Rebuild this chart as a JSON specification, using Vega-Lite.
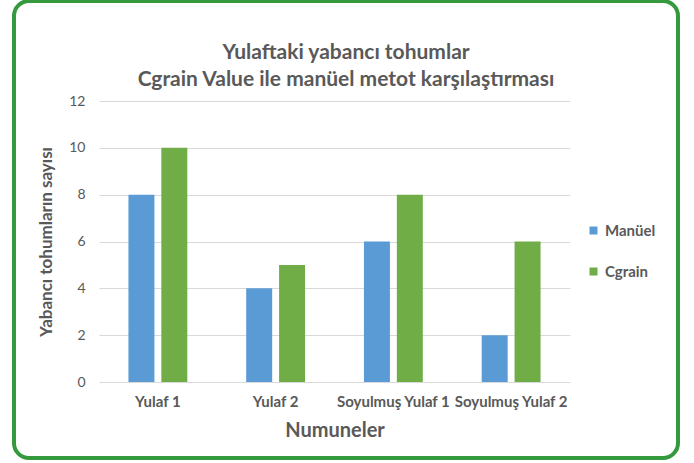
{
  "$schema": "https://vega.github.io/schema/vega-lite/v6.json",
  "width": 664,
  "height": 457,
  "autosize": {"type": "none"},
  "padding": {"left": 14, "top": 1, "right": 16, "bottom": 5},
  "background": "white",
  "title": {
    "text": ["Yulaftaki yabancı tohumlar", "Cgrain Value ile manüel metot karşılaştırması"],
    "font": "Lato",
    "fontSize": 21,
    "fontWeight": "bold",
    "color": "#595959",
    "lineHeight": 27,
    "anchor": "middle",
    "frame": "group",
    "offset": 0,
    "baseline": "alphabetic",
    "dy": 106
  },
  "data": {
    "values": [
      {"sample": "Yulaf 1", "series": "Manüel", "value": 8},
      {"sample": "Yulaf 1", "series": "Cgrain", "value": 10},
      {"sample": "Yulaf 2", "series": "Manüel", "value": 4},
      {"sample": "Yulaf 2", "series": "Cgrain", "value": 5},
      {"sample": "Soyulmuş Yulaf 1", "series": "Manüel", "value": 6},
      {"sample": "Soyulmuş Yulaf 1", "series": "Cgrain", "value": 8},
      {"sample": "Soyulmuş Yulaf 2", "series": "Manüel", "value": 2},
      {"sample": "Soyulmuş Yulaf 2", "series": "Cgrain", "value": 6}
    ]
  },
  "mark": {"type": "bar"},
  "encoding": {
    "x": {
      "field": "sample",
      "type": "nominal",
      "sort": null,
      "scale": {"range": [85, 556], "paddingInner": 0.5, "paddingOuter": 0.25},
      "axis": {
        "offset": -76,
        "domain": false,
        "ticks": false,
        "grid": false,
        "labelAngle": 0,
        "labelFont": "Lato",
        "labelFontSize": 15,
        "labelFontWeight": "bold",
        "labelColor": "#595959",
        "labelPadding": 12,
        "title": "Numuneler",
        "titleFont": "Lato",
        "titleFontSize": 20,
        "titleFontWeight": "bold",
        "titleColor": "#595959",
        "titlePadding": 11
      }
    },
    "xOffset": {
      "field": "series",
      "type": "nominal",
      "sort": ["Manüel", "Cgrain"],
      "scale": {"paddingInner": 0.21}
    },
    "y": {
      "field": "value",
      "type": "quantitative",
      "scale": {"domain": [0, 12], "range": [381, 100], "nice": false},
      "axis": {
        "values": [0, 2, 4, 6, 8, 10, 12],
        "offset": -85,
        "ticks": false,
        "domain": false,
        "gridColor": "#d9d9d9",
        "gridWidth": 1,
        "labelFont": "Lato",
        "labelFontSize": 14,
        "labelColor": "#595959",
        "labelPadding": 14,
        "title": "Yabancı tohumların sayısı",
        "titleFont": "Lato",
        "titleFontSize": 17,
        "titleFontWeight": "bold",
        "titleColor": "#595959",
        "titlePadding": 13
      }
    },
    "color": {
      "field": "series",
      "type": "nominal",
      "scale": {"domain": ["Manüel", "Cgrain"], "range": ["#5B9BD5", "#70AD47"]},
      "legend": {
        "title": null,
        "orient": "none",
        "legendX": 572,
        "legendY": 222,
        "padding": 0,
        "symbolType": "square",
        "symbolSize": 64,
        "symbolStrokeWidth": 0,
        "labelFont": "Lato",
        "labelFontSize": 15,
        "labelFontWeight": "bold",
        "labelColor": "#595959",
        "labelOffset": 4,
        "rowPadding": 25
      }
    }
  },
  "config": {
    "view": {"stroke": "#349a3d", "strokeWidth": 4, "cornerRadius": 15}
  }
}
